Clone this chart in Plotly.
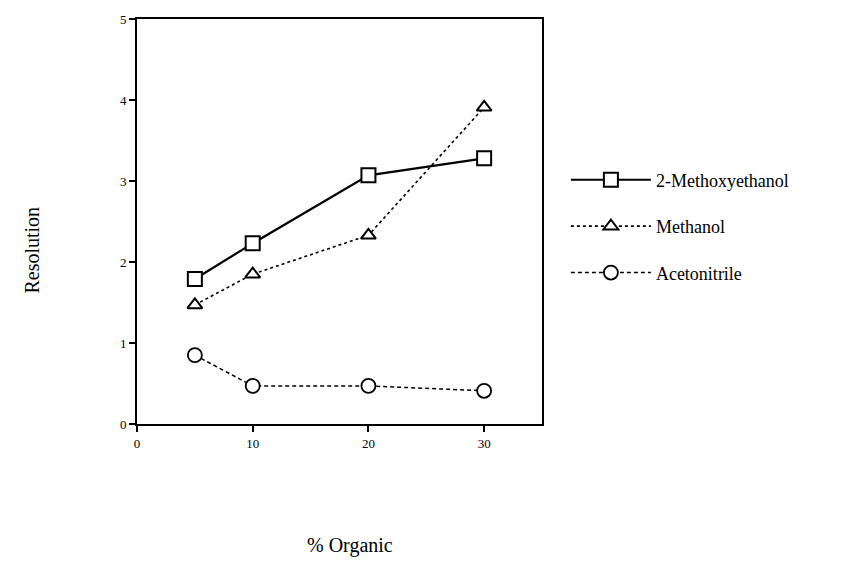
import plotly.graph_objects as go

organic = [5, 10, 20, 30]
methoxyethanol = [1.79, 2.23, 3.07, 3.28]
methanol = [1.47, 1.85, 2.33, 3.91]
acetonitrile = [0.85, 0.47, 0.47, 0.41]

FONT = "Liberation Serif, Times New Roman, serif"

fig = go.Figure()
fig.add_trace(go.Scatter(
    x=organic, y=methoxyethanol, name="2-Methoxyethanol", mode="lines+markers",
    line=dict(color="black", width=2.2, dash="solid"),
    marker=dict(symbol="square", size=14, color="white", line=dict(color="black", width=2)),
    legendgroup="a"))
fig.add_trace(go.Scatter(
    x=organic, y=methanol, name="Methanol", mode="lines+markers",
    line=dict(color="black", width=1.6, dash="dot"),
    marker=dict(symbol="triangle-up", size=13, color="white", line=dict(color="black", width=2)),
    legendgroup="b"))
fig.add_trace(go.Scatter(
    x=organic, y=acetonitrile, name="Acetonitrile", mode="lines+markers",
    line=dict(color="black", width=1.5, dash="4px,3px"),
    marker=dict(symbol="circle", size=14, color="white", line=dict(color="black", width=1.8)),
    legendgroup="c"))

fig.update_layout(
    width=853, height=562,
    margin=dict(l=129, r=319, t=11, b=146, autoexpand=False),
    paper_bgcolor="white", plot_bgcolor="white",
    font=dict(family=FONT, color="black", size=13),
    legend=dict(x=1.059, y=0.648, xanchor="left", yanchor="top",
                font=dict(family=FONT, size=18, color="black"),
                itemwidth=80,
                tracegroupgap=20, bgcolor="rgba(0,0,0,0)"),
    xaxis=dict(range=[0, 35], tickvals=[0, 10, 20, 30], showgrid=False, zeroline=False,
               showline=True, linecolor="black", linewidth=2, mirror=True,
               ticks="outside", ticklen=6, tickwidth=1.5, tickcolor="black",
               tickfont=dict(family=FONT, size=13), automargin=False),
    yaxis=dict(range=[0, 5], tickvals=[0, 1, 2, 3, 4, 5], showgrid=False, zeroline=False,
               showline=True, linecolor="black", linewidth=2, mirror=True,
               ticks="outside", ticklen=6, tickwidth=1.5, tickcolor="black",
               tickfont=dict(family=FONT, size=13), automargin=False),
    annotations=[
        dict(text="% Organic", xref="paper", yref="paper", x=0.527, y=-0.30,
             xanchor="center", yanchor="middle", showarrow=False,
             font=dict(family=FONT, size=20)),
        dict(text="Resolution", xref="paper", yref="paper", x=-0.26, y=0.43,
             xanchor="center", yanchor="middle", showarrow=False, textangle=-90,
             font=dict(family=FONT, size=20)),
    ],
)

fig.write_html("out.html")
